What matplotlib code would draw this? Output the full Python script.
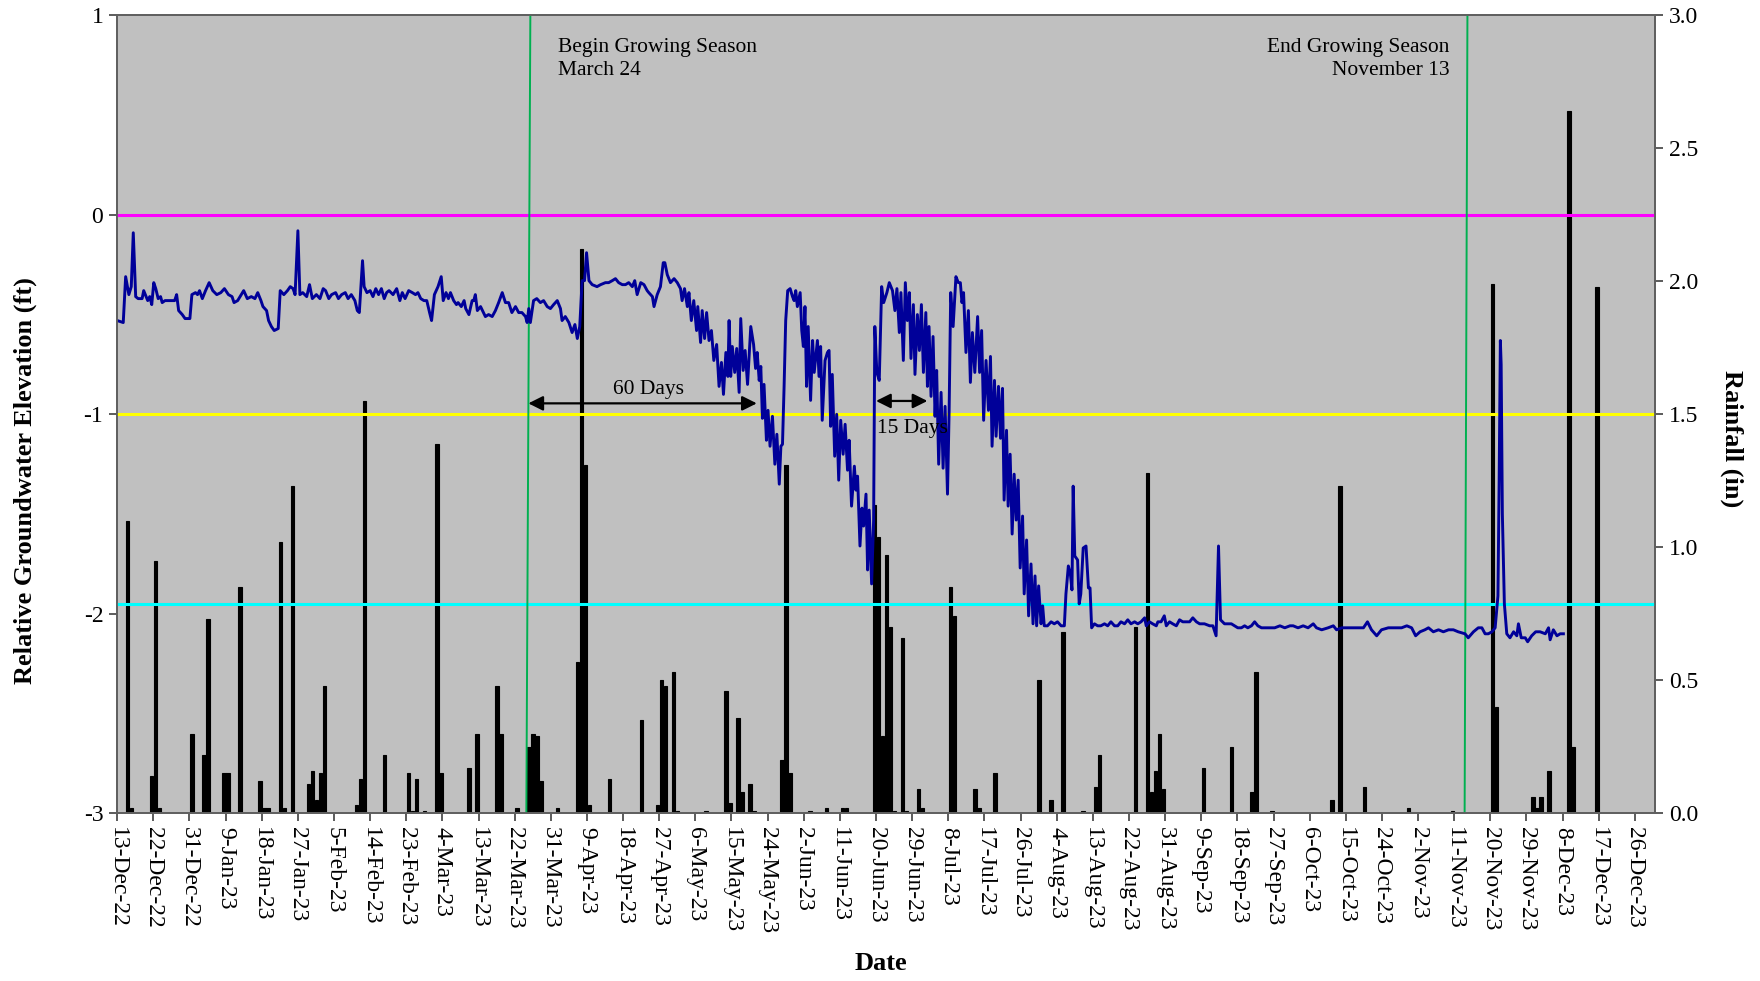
import datetime as dt
import matplotlib
matplotlib.use("Agg")
import matplotlib.pyplot as plt
import matplotlib.dates as mdates
from matplotlib.ticker import FuncFormatter, MultipleLocator

plt.rcParams['font.family'] = ['Liberation Serif', 'DejaVu Serif']
plt.rcParams['axes.unicode_minus'] = False

# =========================
# DATA (day offsets from START)
# =========================
START = dt.date(2022, 12, 13)
END = dt.date(2023, 12, 31)

# groundwater elevation, ft  (day, value)
gw_winter = [
    (0.0, -0.53), (1.5, -0.54), (2.1, -0.31), (2.9, -0.40), (3.5, -0.36), (4.0, -0.09), (4.6, -0.41),
    (5.2, -0.42), (6.2, -0.42), (6.6, -0.38), (7.6, -0.43), (8.1, -0.41), (8.6, -0.45), (9.1, -0.34),
    (9.6, -0.37), (10.2, -0.42), (10.8, -0.41), (11.2, -0.44), (11.9, -0.43), (12.4, -0.43), (13.3, -0.43),
    (14.3, -0.43), (14.8, -0.40), (15.3, -0.48), (16.2, -0.50), (16.9, -0.52), (17.6, -0.52), (18.1, -0.52),
    (18.6, -0.40), (19.5, -0.39), (20.0, -0.40), (20.5, -0.38), (21.2, -0.42), (22.0, -0.38), (22.9, -0.34),
    (23.8, -0.38), (24.8, -0.40), (25.8, -0.39), (26.7, -0.37), (27.7, -0.40), (28.6, -0.41), (29.1, -0.44),
    (30.0, -0.43), (31.5, -0.38), (32.4, -0.42), (33.4, -0.41), (34.3, -0.42), (35.0, -0.39), (35.8, -0.43),
    (36.3, -0.46), (37.2, -0.48), (37.7, -0.53), (38.4, -0.56), (39.1, -0.58), (40.1, -0.57), (40.6, -0.38),
    (41.5, -0.40), (42.4, -0.38), (43.1, -0.36), (43.8, -0.37), (44.3, -0.40), (45.0, -0.08), (45.5, -0.40),
    (46.2, -0.39), (47.2, -0.41), (47.9, -0.35), (48.6, -0.42), (49.6, -0.40), (50.5, -0.42), (51.3, -0.37),
    (51.9, -0.38), (52.7, -0.42), (53.4, -0.40), (54.4, -0.39), (55.1, -0.42), (55.9, -0.40), (56.8, -0.39),
    (57.5, -0.42), (58.3, -0.40), (59.2, -0.43), (59.8, -0.48), (60.3, -0.49), (61.1, -0.23), (61.5, -0.36),
    (62.2, -0.39), (63.0, -0.38), (63.7, -0.41), (64.4, -0.37), (65.1, -0.40), (65.8, -0.37), (66.5, -0.42),
    (67.1, -0.39), (67.7, -0.38), (68.7, -0.40), (69.6, -0.37), (70.4, -0.43), (71.0, -0.39), (71.7, -0.42),
    (72.6, -0.38), (73.5, -0.39), (74.3, -0.40), (74.9, -0.39), (75.6, -0.42), (76.4, -0.43), (77.1, -0.43),
    (77.8, -0.49), (78.3, -0.53), (79.0, -0.40), (79.9, -0.36), (80.7, -0.31), (81.2, -0.43), (81.9, -0.39),
    (82.5, -0.42), (83.0, -0.39), (83.8, -0.43), (84.5, -0.45), (84.9, -0.44), (85.7, -0.46), (86.4, -0.43),
    (86.8, -0.47), (87.6, -0.50), (88.4, -0.43), (88.8, -0.43), (89.2, -0.40), (89.7, -0.48),
]

gw_spring = [
    (90.5, -0.46), (91.7, -0.51), (92.5, -0.50), (93.4, -0.51), (94.2, -0.48), (95.0, -0.44), (95.9, -0.39),
    (96.7, -0.44), (97.5, -0.44), (98.3, -0.49), (99.2, -0.46), (100.0, -0.49), (100.8, -0.49), (101.7, -0.51),
    (102.1, -0.54), (102.5, -0.47), (102.9, -0.54), (103.7, -0.43), (104.5, -0.42), (105.4, -0.44), (106.2, -0.43),
    (107.1, -0.46), (107.9, -0.47), (108.7, -0.45), (109.6, -0.43), (110.4, -0.47), (110.8, -0.53), (111.6, -0.51),
    (112.5, -0.54), (113.3, -0.59), (114.0, -0.55), (114.6, -0.62), (115.2, -0.56), (115.8, -0.33), (116.4, -0.33),
    (116.9, -0.19), (117.5, -0.33), (118.3, -0.35), (119.5, -0.36), (120.4, -0.35), (121.6, -0.34), (122.4, -0.34),
    (123.3, -0.33), (124.1, -0.32), (124.9, -0.34), (125.8, -0.35), (126.6, -0.35), (127.4, -0.34), (128.3, -0.36),
    (128.9, -0.33), (129.5, -0.40), (130.4, -0.34), (131.2, -0.35), (132.0, -0.38), (132.4, -0.39), (133.3, -0.41),
    (133.7, -0.46), (134.5, -0.40), (135.3, -0.36), (136.0, -0.24), (136.4, -0.24), (137.0, -0.30), (137.8, -0.34),
    (138.7, -0.32), (139.5, -0.34), (140.3, -0.37), (140.7, -0.43), (141.3, -0.37), (142.0, -0.46), (142.4, -0.39),
    (143.0, -0.53), (143.6, -0.43), (144.3, -0.58), (144.6, -0.46), (145.3, -0.64), (145.7, -0.48), (146.3, -0.62),
    (146.8, -0.49), (147.4, -0.63), (148.0, -0.58), (148.6, -0.73), (149.3, -0.65), (149.9, -0.86), (150.5, -0.74),
    (151.0, -0.90), (151.6, -0.69), (152.1, -0.81), (152.4, -0.53), (152.8, -0.81), (153.2, -0.66), (153.8, -0.79),
    (154.3, -0.67), (154.9, -0.89), (155.3, -0.52), (155.9, -0.78), (156.4, -0.68), (157.0, -0.85), (157.8, -0.56),
    (158.5, -0.65), (159.0, -0.77), (159.4, -0.69), (159.9, -0.83), (160.3, -0.76), (160.7, -1.02), (161.1, -0.85),
    (161.7, -1.13), (162.1, -0.98), (162.6, -1.16), (163.2, -1.01), (163.8, -1.25), (164.3, -1.10), (164.9, -1.35),
    (165.3, -1.16), (165.7, -1.15), (166.1, -0.86), (166.5, -0.53), (167.0, -0.38), (167.6, -0.37), (168.2, -0.41),
    (168.6, -0.43), (169.0, -0.38), (169.4, -0.46), (170.1, -0.39), (170.5, -0.58), (170.9, -0.66), (171.3, -0.46),
    (171.7, -0.86), (172.1, -0.56), (172.7, -0.93), (173.2, -0.63), (173.6, -0.79), (174.4, -0.63), (174.8, -0.81),
    (175.2, -0.66), (175.6, -1.03), (176.3, -0.73), (176.9, -0.69), (177.3, -0.68), (177.7, -1.06), (178.1, -0.80),
    (178.7, -1.21), (179.2, -1.00), (179.7, -1.33), (180.2, -1.03), (180.8, -1.20), (181.3, -1.05), (181.9, -1.28),
    (182.3, -1.13), (182.9, -1.46), (183.6, -1.26), (184.0, -1.38), (184.4, -1.31), (185.0, -1.66), (185.5, -1.47),
    (185.9, -1.56), (186.5, -1.40), (186.9, -1.78), (187.3, -1.48), (187.9, -1.85), (188.4, -1.53), (188.7, -0.56),
    (189.2, -0.79), (189.8, -0.83), (190.4, -0.36),
]

gw_summer = [
    (190.9, -0.44), (191.7, -0.39), (192.3, -0.34), (193.1, -0.38), (193.7, -0.48), (194.2, -0.37), (194.8, -0.59),
    (195.2, -0.39), (195.8, -0.73), (196.3, -0.34), (196.8, -0.53), (197.3, -0.39), (197.7, -0.72), (198.3, -0.45),
    (198.7, -0.80), (199.3, -0.50), (199.8, -0.68), (200.3, -0.45), (200.8, -0.79), (201.4, -0.49), (201.8, -0.86),
    (202.2, -0.56), (202.7, -0.91), (203.2, -0.61), (203.7, -1.01), (204.1, -0.78), (204.6, -1.25), (205.2, -0.89),
    (205.7, -1.27), (206.2, -0.96), (206.8, -1.40), (207.2, -0.99), (207.6, -0.39), (208.2, -0.56), (208.9, -0.31),
    (209.5, -0.34), (210.0, -0.34), (210.4, -0.44), (210.8, -0.39), (211.4, -0.69), (212.0, -0.48), (212.5, -0.84),
    (213.0, -0.59), (213.6, -0.79), (214.3, -0.51), (214.8, -0.79), (215.3, -0.58), (215.8, -1.03), (216.4, -0.73),
    (217.0, -0.98), (217.5, -0.71), (217.9, -1.16), (218.5, -0.83), (218.9, -1.11), (219.5, -0.86), (220.0, -1.12),
    (220.5, -0.87), (220.9, -1.43), (221.5, -1.08), (221.9, -1.46), (222.4, -1.20), (222.9, -1.60), (223.4, -1.30),
    (223.9, -1.53), (224.4, -1.33), (224.9, -1.77), (225.5, -1.51), (225.9, -1.90), (226.5, -1.63), (227.0, -2.01),
    (227.6, -1.75), (228.1, -2.05), (228.6, -1.81), (229.0, -2.06), (229.5, -1.86), (230.1, -2.05), (230.5, -1.96),
    (230.9, -2.06), (231.7, -2.06), (232.6, -2.04), (233.4, -2.05), (234.2, -2.04), (235.1, -2.06), (235.9, -2.06),
    (236.3, -1.90), (236.9, -1.76), (237.4, -1.80), (237.8, -1.88), (238.1, -1.36), (238.5, -1.71), (239.2, -1.73),
    (239.6, -1.95), (240.0, -1.90), (240.6, -1.67), (241.3, -1.66), (241.9, -1.87), (242.3, -1.87), (242.7, -2.07),
    (243.4, -2.05), (244.2, -2.06), (245.0, -2.06), (245.9, -2.05), (246.7, -2.06), (247.5, -2.04), (248.4, -2.06),
    (249.2, -2.06), (250.0, -2.04), (250.9, -2.05), (251.7, -2.03), (252.5, -2.05), (253.4, -2.04), (254.2, -2.05),
    (255.0, -2.04), (255.9, -2.02), (256.3, -2.06), (257.1, -2.04), (257.9, -2.05), (258.8, -2.06), (259.2, -2.04),
    (260.0, -2.04), (260.8, -2.01), (261.3, -2.06), (262.1, -2.04), (262.9, -2.05), (263.8, -2.06), (264.6, -2.03),
    (265.4, -2.04), (266.2, -2.04), (267.1, -2.04), (267.9, -2.02), (268.8, -2.04), (269.6, -2.05), (270.8, -2.05),
    (272.1, -2.06), (272.9, -2.06), (273.7, -2.11), (274.3, -1.66), (274.8, -2.03), (275.8, -2.05), (276.7, -2.05),
    (277.5, -2.05), (278.3, -2.06), (279.1, -2.07), (280.0, -2.07), (280.8, -2.06), (281.6, -2.07), (282.5, -2.06),
    (283.3, -2.04), (284.1, -2.06), (285.0, -2.07),
]

gw_fall = [
    (286.7, -2.07), (287.5, -2.07), (288.3, -2.07), (289.6, -2.06), (290.8, -2.07), (292.1, -2.06), (292.9, -2.06),
    (294.1, -2.07), (295.4, -2.06), (296.6, -2.07), (297.9, -2.05), (298.7, -2.07), (300.0, -2.08), (301.6, -2.07),
    (302.9, -2.06), (303.7, -2.08), (305.0, -2.07), (306.6, -2.07), (307.9, -2.07), (309.1, -2.07), (310.4, -2.07),
    (311.4, -2.04), (312.4, -2.08), (313.7, -2.11), (314.9, -2.08), (316.6, -2.07), (318.2, -2.07), (319.9, -2.07),
    (321.2, -2.06), (322.4, -2.07), (323.4, -2.11), (324.5, -2.09), (325.7, -2.08), (326.6, -2.07), (327.8, -2.09),
    (329.1, -2.08), (330.3, -2.09), (331.6, -2.08), (332.8, -2.08), (334.0, -2.09), (335.7, -2.10), (336.5, -2.12),
    (337.8, -2.09), (339.0, -2.07), (339.9, -2.07), (340.7, -2.10), (341.5, -2.10), (342.4, -2.09), (343.2, -2.07),
    (343.9, -1.91), (344.2, -1.33), (344.5, -0.63), (344.7, -0.75), (345.0, -1.50), (345.5, -1.95), (346.1, -2.10),
    (346.9, -2.12), (347.8, -2.09), (348.6, -2.11), (349.0, -2.05), (349.7, -2.12), (350.7, -2.12), (351.3, -2.14),
    (352.3, -2.11), (353.3, -2.09), (354.4, -2.09), (355.7, -2.10), (356.5, -2.07), (356.9, -2.13), (357.7, -2.08),
    (358.6, -2.11), (359.4, -2.10), (360.2, -2.10),
]

# daily rainfall, inches (day, value)
rain = [
    (2, 1.10), (3, 0.02), (8, 0.14), (9, 0.95), (10, 0.02), (18, 0.30), (21, 0.22), (22, 0.73), (26, 0.15),
    (27, 0.15), (30, 0.85), (35, 0.12), (36, 0.02), (37, 0.02), (40, 1.02), (41, 0.02), (43, 1.23), (47, 0.11),
    (48, 0.16), (49, 0.05), (50, 0.15), (51, 0.48), (59, 0.03), (60, 0.13), (61, 1.55), (66, 0.22), (72, 0.15),
    (73, 0.01), (74, 0.13), (76, 0.01), (79, 1.39), (80, 0.15), (87, 0.17), (89, 0.30), (94, 0.48), (95, 0.30),
    (99, 0.02), (102, 0.25), (103, 0.30), (104, 0.29), (105, 0.12), (109, 0.02), (114, 0.57), (115, 2.12),
    (116, 1.31), (117, 0.03), (122, 0.13), (130, 0.35), (134, 0.03), (135, 0.50), (136, 0.48), (138, 0.53),
    (139, 0.01), (146, 0.01), (151, 0.46), (152, 0.04), (154, 0.36), (155, 0.08), (157, 0.11), (158, 0.01),
    (165, 0.20), (166, 1.31), (167, 0.15), (172, 0.01), (176, 0.02), (180, 0.02), (181, 0.02), (188, 1.16),
    (189, 1.04), (190, 0.29), (191, 0.97), (192, 0.70), (193, 0.01), (195, 0.66), (196, 0.01), (199, 0.09),
    (200, 0.02), (207, 0.85), (208, 0.74), (213, 0.09), (214, 0.02), (218, 0.15), (229, 0.50), (232, 0.05),
    (235, 0.68), (240, 0.01), (243, 0.10), (244, 0.22), (253, 0.70), (256, 1.28), (257, 0.08), (258, 0.16),
    (259, 0.30), (260, 0.09), (270, 0.17), (277, 0.25), (282, 0.08), (283, 0.53), (287, 0.01), (302, 0.05),
    (304, 1.23), (310, 0.10), (321, 0.02), (332, 0.01), (342, 1.99), (343, 0.40), (352, 0.06), (353, 0.02),
    (354, 0.06), (356, 0.16), (361, 2.64), (362, 0.25), (368, 1.98),
]

# reference levels, ft
level_top = 0.0
level_mid = -1.0
level_low = -1.95

# growing season markers (drawn lines, slightly slanted like the original)
season_begin = (102.9, 101.9)
season_end = (336.3, 335.6)

# =========================
# FIGURE
# =========================
t0 = mdates.date2num(START)

fig = plt.figure(figsize=(17.6, 9.81), dpi=100)
ax2 = fig.add_axes([0.0666, 0.1709, 0.8737, 0.8135])
ax = ax2.twinx()
# lines on top of the bars
ax.set_zorder(ax2.get_zorder() + 1)
ax.patch.set_visible(False)
ax2.set_facecolor('#C0C0C0')

# ax2 holds rainfall on the right, ax holds groundwater on the left
ax.yaxis.tick_left()
ax.yaxis.set_label_position('left')
ax2.yaxis.tick_right()
ax2.yaxis.set_label_position('right')

# rainfall bars
ax2.bar([t0 + d + 0.6 for d, v in rain], [v for d, v in rain],
        width=0.85, color='black', edgecolor='black', linewidth=0.8)
ax2.set_ylim(0, 3.0)
ax2.yaxis.set_major_locator(MultipleLocator(0.5))
ax2.yaxis.set_major_formatter(FuncFormatter(lambda v, p: f"{v:.1f}"))

# reference lines
ax.axhline(level_top, color='#FF00FF', lw=2.2)
ax.axhline(level_mid, color='#FFFF00', lw=2.2)
ax.axhline(level_low, color='#00FFFF', lw=2.2)
ax.plot([t0 + season_begin[0], t0 + season_begin[1]], [1, -3], color='#00B050', lw=1.4)
ax.plot([t0 + season_end[0], t0 + season_end[1]], [1, -3], color='#00B050', lw=1.4)

# groundwater line
gw = gw_winter + gw_spring + gw_summer + gw_fall
ax.plot([t0 + d for d, v in gw], [v for d, v in gw], color='#000099', lw=2.1)

ax.set_ylim(-3, 1)
ax.yaxis.set_major_locator(MultipleLocator(1))
ax.yaxis.set_major_formatter(FuncFormatter(lambda v, p: f"{v:.0f}"))

# x axis
ax2.set_xlim(t0, mdates.date2num(END))
xt = [t0 + 9 * k for k in range(43)]
ax2.set_xticks(xt)
ax2.xaxis.set_major_formatter(FuncFormatter(
    lambda v, p: (lambda d: f"{d.day}-{d:%b-%y}")(mdates.num2date(v))))
for lab in ax2.get_xticklabels():
    lab.set_rotation(270)

for a in (ax, ax2):
    a.tick_params(axis='both', direction='out', length=6, width=1.2,
                  color='#404040', labelsize=17, pad=4)
    for s in a.spines.values():
        s.set_color('#606060')
        s.set_linewidth(1.3)

# =========================
# ANNOTATIONS
# =========================
arrow = dict(arrowstyle='<|-|>', color='black', lw=1.6, mutation_scale=22,
             shrinkA=0, shrinkB=0)
ax.annotate('', xy=(t0 + 102.4, -0.945), xytext=(t0 + 159.3, -0.945), arrowprops=arrow)
ax.text(t0 + 132.4, -0.875, '60 Days', ha='center', va='center', fontsize=15.5)
ax.annotate('', xy=(t0 + 189.0, -0.933), xytext=(t0 + 201.8, -0.933), arrowprops=arrow)
ax.text(t0 + 189.2, -1.07, '15 Days', ha='left', va='center', fontsize=15.5)

ax.text(t0 + 109.9, 0.885, 'Begin Growing Season\nMarch 24', ha='left', va='top',
        fontsize=15.5, linespacing=1.25)
ax.text(t0 + 331.8, 0.885, 'End Growing Season\nNovember 13', ha='right', va='top',
        fontsize=15.5, linespacing=1.25, multialignment='right')

# axis titles
fig.text(25 / 1760, 1 - 481 / 981, 'Relative Groundwater Elevation (ft)', rotation=90,
         ha='center', va='center', fontsize=19, fontweight='bold')
fig.text(1732 / 1760, 1 - 439 / 981, 'Rainfall (in)', rotation=270,
         ha='center', va='center', fontsize=19, fontweight='bold')
fig.text(881 / 1760, 1 - 963 / 981, 'Date', ha='center', va='center',
         fontsize=19, fontweight='bold')

fig.savefig('out.png', dpi=100)
